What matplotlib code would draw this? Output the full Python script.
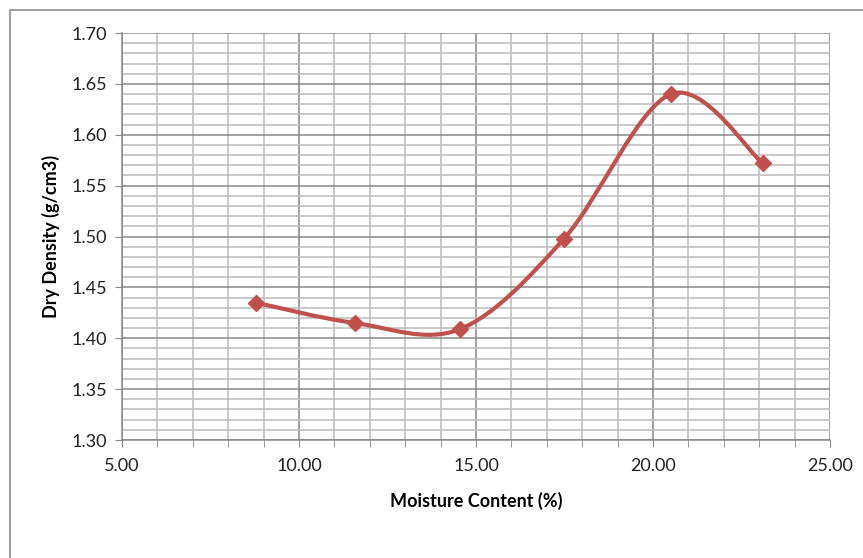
import numpy as np
import matplotlib.pyplot as plt
from matplotlib.path import Path
from matplotlib.patches import PathPatch, Rectangle
from matplotlib.ticker import MultipleLocator, FormatStrFormatter

plt.rcParams['font.family'] = ['Lato', 'DejaVu Sans']

# Данные с графика
moisture = [8.78, 11.58, 14.55, 17.49, 20.51, 23.10]
density = [1.435, 1.415, 1.409, 1.498, 1.640, 1.572]

line_color = '#C0504D'
major_grid = '#878787'
minor_grid = '#BFBFBF'


# Сглаженная линия как в Excel (Безье по Catmull-Rom)
def smooth_path(xs, ys):
    pts = np.column_stack([xs, ys])
    n = len(pts)
    verts = [pts[0]]
    codes = [Path.MOVETO]
    for i in range(n - 1):
        p0 = pts[i - 1] if i > 0 else pts[i]
        p1 = pts[i]
        p2 = pts[i + 1]
        p3 = pts[i + 2] if i + 2 < n else pts[i + 1]
        c1 = p1 + (p2 - p0) / 6.0
        c2 = p2 - (p3 - p1) / 6.0
        verts += [c1, c2, p2]
        codes += [Path.CURVE4] * 3
    return Path(verts, codes)


fig = plt.figure(figsize=(8.63, 5.58), dpi=100)
ax = fig.add_axes([122 / 863, 1 - 440 / 558, (830 - 122) / 863, (440 - 33) / 558])

ax.set_xlim(5, 25)
ax.set_ylim(1.30, 1.70)
ax.xaxis.set_major_locator(MultipleLocator(5))
ax.xaxis.set_minor_locator(MultipleLocator(1))
ax.yaxis.set_major_locator(MultipleLocator(0.05))
ax.yaxis.set_minor_locator(MultipleLocator(0.01))
ax.xaxis.set_major_formatter(FormatStrFormatter('%.2f'))
ax.yaxis.set_major_formatter(FormatStrFormatter('%.2f'))

ax.grid(which='minor', color=minor_grid, linewidth=1.2, zorder=0)
ax.grid(which='major', color=major_grid, linewidth=1.1, zorder=0.5)
ax.set_axisbelow(True)

for s in ['top', 'right']:
    ax.spines[s].set_visible(False)
for s in ['left', 'bottom']:
    ax.spines[s].set_color(major_grid)
    ax.spines[s].set_linewidth(1.1)

ax.tick_params(axis='both', which='both', color=major_grid, direction='out',
               labelsize=13, labelcolor='#222222')
ax.tick_params(axis='x', which='major', length=5, pad=8)
ax.tick_params(axis='x', which='minor', length=5)
ax.tick_params(axis='y', which='major', length=5, pad=6)
ax.tick_params(axis='y', which='minor', length=0)

patch = PathPatch(smooth_path(moisture, density), facecolor='none',
                  edgecolor=line_color, linewidth=3.0, zorder=3)
ax.add_patch(patch)
ax.plot(moisture, density, linestyle='none', marker='D', markersize=8,
        color=line_color, zorder=4)

ax.set_xlabel('Moisture Content (%)', fontsize=13, fontweight='bold', labelpad=13)
ax.set_ylabel('Dry Density (g/cm3)', fontsize=13, fontweight='bold', labelpad=8)

# Рамка диаграммы
fig.patches.append(Rectangle((10 / 863, -0.1), 1.2, 1 - 10 / 558 + 0.1,
                             transform=fig.transFigure, fill=False,
                             edgecolor='#8C8C8C', linewidth=1.2))

fig.savefig('out.png', dpi=100)
